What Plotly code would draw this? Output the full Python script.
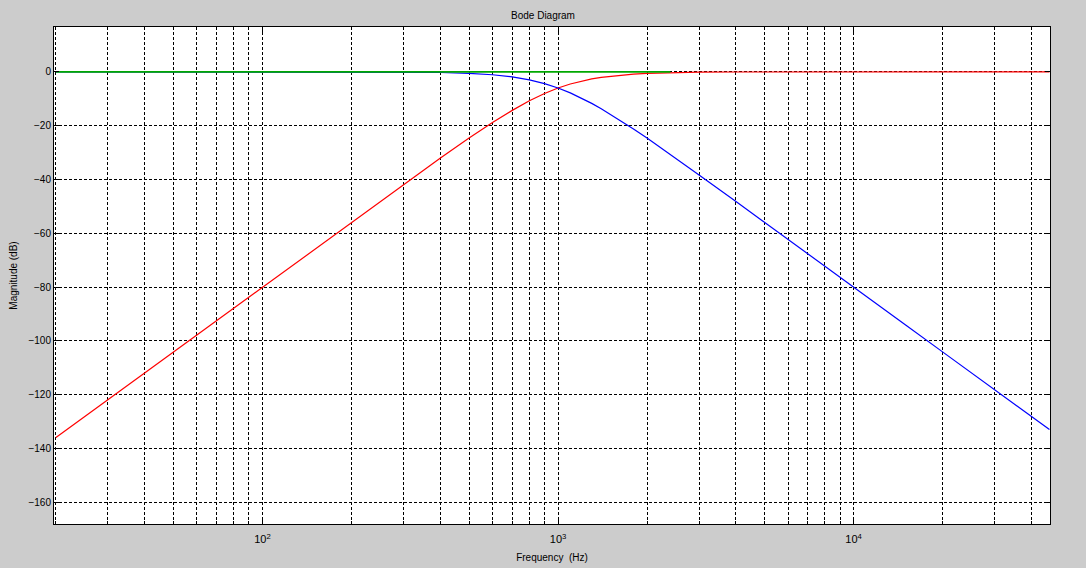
import plotly.graph_objects as go

freq = [20, 30, 50, 70, 100, 150, 200, 300, 400, 500, 600, 700, 800, 900,
        1000, 1100, 1200, 1300, 1400, 1600, 1800, 2000, 2500, 3000, 4000,
        5000, 7000, 10000, 15000, 20000, 30000, 46000]

# High-pass (red) magnitude, dB
highpass_db = [-135.9, -121.8, -104.1, -92.4, -80.0, -65.9, -55.9, -41.9, -32.05,
               -24.6, -18.8, -14.3, -10.7, -8.0, -6.0, -4.5, -3.4, -2.6, -2.0,
               -1.23, -0.79, -0.53, -0.22, -0.11, -0.03, -0.01, 0, 0, 0, 0, 0, 0]

# Low-pass (blue) magnitude, dB
lowpass_db = [0, 0, 0, 0, 0, 0, -0.01, -0.07, -0.22, -0.53, -1.06, -1.87, -2.98,
              -4.38, -6.0, -7.8, -9.75, -11.7, -13.7, -17.6, -21.2, -24.6, -32.05,
              -38.3, -48.2, -55.9, -67.6, -80.0, -94.1, -104.1, -118.2, -133.0]

# Sum (green) magnitude, dB
sum_freq = [20, 100, 1000, 2400]
sum_db = [0, 0, 0, 0]

# Axis ticks
x_major = [100, 1000, 10000]
x_major_text = ["10<sup>2</sup>", "10<sup>3</sup>", "10<sup>4</sup>"]
x_minor = [20, 30, 40, 50, 60, 70, 80, 90,
           200, 300, 400, 500, 600, 700, 800, 900,
           2000, 3000, 4000, 5000, 6000, 7000, 8000, 9000,
           20000, 30000, 40000]
y_ticks = [0, -20, -40, -60, -80, -100, -120, -140, -160]

fig = go.Figure()
fig.add_trace(go.Scatter(x=freq, y=highpass_db, mode="lines",
                         line=dict(color="#ff0000", width=1.2), showlegend=False))
fig.add_trace(go.Scatter(x=freq, y=lowpass_db, mode="lines",
                         line=dict(color="#0000ff", width=1.2), showlegend=False))
fig.add_trace(go.Scatter(x=sum_freq, y=sum_db, mode="lines",
                         line=dict(color="#00a800", width=1.6), showlegend=False))

FAM = "Liberation Sans, Arial, sans-serif"
font = dict(family=FAM, size=10, color="#000000")

fig.update_layout(
    width=1086, height=568,
    margin=dict(l=54, r=36, t=27, b=44),
    paper_bgcolor="#cccccc", plot_bgcolor="#ffffff",
    font=font,
    title=dict(text="Bode Diagram", x=0.5, xanchor="center", y=0.972, yanchor="middle",
               font=dict(family=FAM, size=10, color="#000")),
    showlegend=False,
)

fig.update_xaxes(
    type="log", range=[1.2945, 4.6646], automargin=False,
    tickmode="array", tickvals=x_major, ticktext=x_major_text,
    ticks="inside", ticklen=5, tickcolor="#000", tickwidth=1,
    ticklabelstandoff=5,
    showline=True, linecolor="#000", linewidth=1, mirror="ticks",
    showgrid=True, gridcolor="#000", gridwidth=1, griddash="3px,2px",
    minor=dict(tickmode="array", tickvals=x_minor, ticks="inside", ticklen=3,
               tickcolor="#000", showgrid=True, gridcolor="#000", gridwidth=1,
               griddash="3px,2px"),
    zeroline=False,
    title=dict(text="Frequency\u00a0 (Hz)", standoff=9,
               font=dict(family=FAM, size=10, color="#000")),
    tickfont=dict(family=FAM, size=11, color="#000"),
)

fig.update_yaxes(
    range=[-168.1, 16.7], automargin=False,
    tickmode="array", tickvals=y_ticks,
    ticks="inside", ticklen=5, tickcolor="#000", tickwidth=1,
    showline=True, linecolor="#000", linewidth=1, mirror="ticks",
    showgrid=True, gridcolor="#000", gridwidth=1, griddash="3px,2px",
    zeroline=False,
    title=dict(text="Magnitude (dB)", standoff=8,
               font=dict(family=FAM, size=10, color="#000")),
    tickfont=font,
)

fig.write_html("out.html",
               config={"displayModeBar": False},
               post_script="document.body.style.margin='0';document.body.style.overflow='hidden';")
